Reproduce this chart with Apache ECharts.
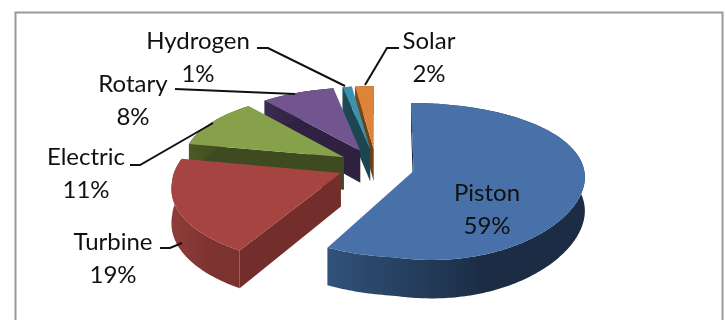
<!DOCTYPE html>
<html>
<head>
<meta charset="utf-8">
<style>html,body{margin:0;padding:0;background:#fff}#chart{width:725px;height:320px}</style>
<script src="https://cdn.jsdelivr.net/npm/echarts@6/dist/echarts.min.js"></script>
</head>
<body>
<div id="chart"></div>
<script>
// Engine types and their share of the total, in percent, clockwise from 12 o'clock.
var categories = ['Piston', 'Turbine', 'Electric', 'Rotary', 'Hydrogen', 'Solar'];
var shares = [59, 19, 11, 8, 1, 2];

// Face colours for each slice: top, curved wall (left/right of gradient), flat radial wall.
var topColors = ['#4771A8', '#A54440', '#87A14B', '#72558F', '#3A92AD', '#DD843A'];
var wallLeft = ['#31527A', '#8F3D39', '#4A5A26', '#3A2A50', '#1E4C59', '#7A4A1D'];
var wallRight = ['#1B2C44', '#7C322F', '#3E4A1F', '#2F2240', '#1B4652', '#6E4119'];
var edgeColors = ['#1C2E46', '#732D2B', '#3E4A1F', '#2F2240', '#1B4652', '#6E4119'];

// Ground-plane projection of the exploded disc (unit radius).
var CX = 376, CY = 166, FX = 170, FY = 75.7, PERSP = 0.134, EXPLODE = 0.229, THICK = 33;

// Lens correction of the camera: narrows the left half a little, narrows the
// far-left quarter further and pulls the near part of the disc to the right.
function lensShift(X, Y) {
  var near = Math.max(-Y - 0.2, 0);
  var far = Math.min(Math.max(Y + 0.2, 0), 0.5);
  if (X < 0) return near * (22 + 35.5 * X) - far * 10 * X - 3 * X;
  return near * 22 * Math.max(1 - X / 1.2, 0);
}
function lensDrop(X, Y) {
  var near = Math.max(-Y - 0.2, 0);
  return X < 0 ? near * 5 * Math.min(-X * 3, 1) : 0;
}

function project(X, Y, drop) {
  var sy = 1 / (1 + PERSP * Y);
  var sx = 1 / (1 + 0.5 * PERSP * Y);
  return [CX + FX * X * sx + lensShift(X, Y), CY - FY * Y * sy + drop * sy + lensDrop(X, Y)];
}

var total = shares.reduce(function (a, b) { return a + b; }, 0);
var starts = [];
shares.reduce(function (acc, v, i) { starts[i] = acc; return acc + v; }, 0);

function sliceShapes(i) {
  var a0 = starts[i] / total * 2 * Math.PI;
  var a1 = (starts[i] + shares[i]) / total * 2 * Math.PI;
  var mid = (a0 + a1) / 2;
  var ax = EXPLODE * Math.sin(mid), ay = EXPLODE * Math.cos(mid);
  var rim = [];
  var steps = Math.max(2, Math.round((a1 - a0) * 60));
  for (var k = 0; k <= steps; k++) {
    var t = a0 + (a1 - a0) * k / steps;
    rim.push([ax + Math.sin(t), ay + Math.cos(t)]);
  }
  var top = function (p) { return project(p[0], p[1], 0); };
  var low = function (p) { return project(p[0], p[1], THICK); };
  var apex = [ax, ay];
  return {
    top: [top(apex)].concat(rim.map(top)),
    wall: rim.map(top).concat(rim.slice().reverse().map(low)),
    edge: [top(apex), top(rim[0]), low(rim[0]), low(apex)]
  };
}

function renderSlice(params, api) {
  var i = api.value(0);
  var s = sliceShapes(i);
  return {
    type: 'group',
    children: [
      { type: 'polygon', shape: { points: s.edge }, style: { fill: edgeColors[i] } },
      {
        type: 'polygon', shape: { points: s.wall },
        style: {
          fill: new echarts.graphic.LinearGradient(0, 0, 1, 0, [
            { offset: 0, color: wallLeft[i] },
            { offset: 0.62, color: wallRight[i] },
            { offset: 1, color: wallRight[i] }
          ])
        }
      },
      { type: 'polygon', shape: { points: s.top }, style: { fill: topColors[i] } }
    ]
  };
}

// Back slices are painted first so nearer ones overlap them.
var paintOrder = [5, 4, 3, 2, 1, 0];

// Label placement: centre x and middle y of the name; the percent sits one line below.
var labelSpots = [[487, 193], [113, 242], [86, 157], [133, 84], [198, 41], [429, 41]];
var LINE_GAP = 33;
var leaders = [
  null,
  [[160, 248], [170, 248], [182, 243]],
  [[130, 165], [140, 165], [213, 123]],
  [[175, 89], [295, 94]],
  [[257, 48], [268, 48], [345, 86]],
  [[399, 48], [387, 48], [365, 85]]
];

var graphics = [{
  type: 'polyline',
  shape: { points: [[15.5, 330], [15.5, 12.5], [722.5, 12.5], [722.5, 330]] },
  style: { stroke: '#9a9a9a', lineWidth: 2, fill: 'none' },
  z: 1
}];
leaders.forEach(function (pts) {
  if (pts) graphics.push({
    type: 'polyline', shape: { points: pts },
    style: { stroke: '#111', lineWidth: 2, fill: 'none' }, z: 20
  });
});
categories.forEach(function (name, i) {
  [name, shares[i] + '%'].forEach(function (txt, row) {
    graphics.push({
      type: 'text', x: labelSpots[i][0], y: labelSpots[i][1] + row * LINE_GAP, z: 21,
      style: {
        text: txt, fill: '#111', align: 'center', verticalAlign: 'middle',
        font: '24px Lato, "Open Sans", sans-serif'
      }
    });
  });
});

var chart = echarts.init(document.getElementById('chart'), null, { renderer: 'canvas' });
chart.setOption({
  animation: false,
  backgroundColor: '#fff',
  graphic: graphics,
  series: [{
    type: 'custom',
    coordinateSystem: 'none',
    renderItem: renderSlice,
    encode: { value: 1 },
    z: 5,
    data: paintOrder.map(function (i) { return [i, shares[i]]; })
  }]
});
</script>
</body>
</html>
